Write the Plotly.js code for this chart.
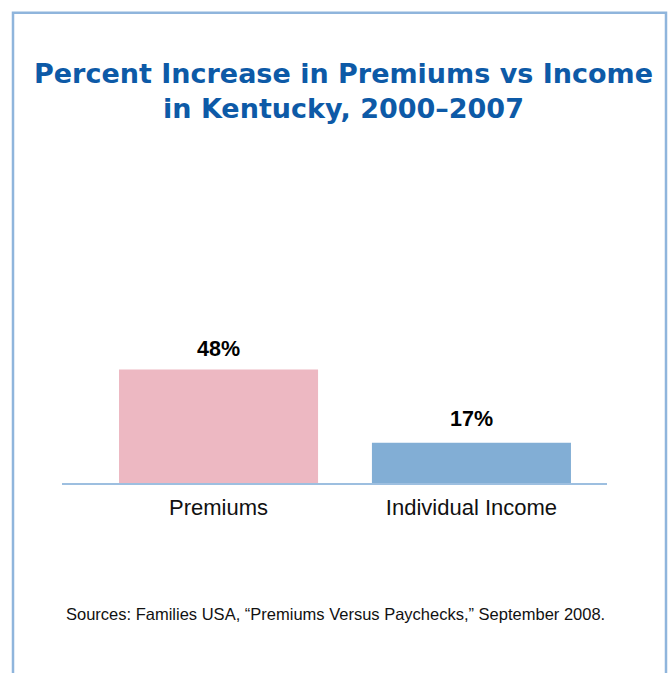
<!DOCTYPE html>
<html>
<head>
<meta charset="utf-8">
<script src="https://cdn.plot.ly/plotly-3.0.1.min.js"></script>
<style>
html,body{margin:0;padding:0;background:#fff;}
#chart{width:670px;height:673px;}
</style>
</head>
<body>
<div id="chart"></div>
<script>
const categories = ["Premiums", "Individual Income"];
const percentIncrease = [48, 17];
const valueLabels = ["48%", "17%"];
const barColors = ["#edb8c2", "#82aed5"];
const titleText = "Percent Increase in Premiums vs Income<br>in Kentucky, 2000\u20132007";
const sourceText = "Sources: Families USA, \u201cPremiums Versus Paychecks,\u201d September 2008.";

const trace = {
  type: "bar",
  x: categories,
  y: percentIncrease,
  marker: {color: barColors, line: {width: 0}},
  width: 0.787,
  hoverinfo: "skip"
};

const valueAnnotations = categories.map((c, i) => ({
  text: valueLabels[i],
  x: c,
  y: percentIncrease[i],
  xref: "x", yref: "y",
  xanchor: "center", yanchor: "bottom",
  yshift: i === 0 ? 6 : 10,
  showarrow: false,
  font: {family: "Liberation Sans, Arial, sans-serif", size: 21.5, color: "#000000", weight: "bold"}
}));

const layout = {
  width: 670,
  height: 673,
  margin: {l: 62, r: 63, t: 340.5, b: 190},
  paper_bgcolor: "#ffffff",
  plot_bgcolor: "#ffffff",
  showlegend: false,
  title: {
    text: titleText,
    font: {family: "DejaVu Sans, sans-serif", size: 27, color: "#0d5aa7", weight: "bold"},
    x: 343.5 / 670,
    xref: "container",
    xanchor: "center",
    y: 1 - 83 / 673,
    yref: "container",
    yanchor: "top"
  },
  xaxis: {
    type: "category",
    range: [-0.619, 1.536],
    showgrid: false,
    zeroline: false,
    showline: true,
    linecolor: "#9dbfe0",
    linewidth: 1.5,
    ticks: "",
    ticklabelstandoff: 4,
    tickfont: {family: "Liberation Sans, Arial, sans-serif", size: 22, color: "#111111"},
    fixedrange: true
  },
  yaxis: {
    range: [0, 60],
    showgrid: false,
    zeroline: false,
    showline: false,
    showticklabels: false,
    ticks: "",
    fixedrange: true
  },
  shapes: [{
    type: "rect",
    xref: "paper", yref: "paper",
    x0: (13 - 62) / 545, x1: (666 - 62) / 545,
    y0: (483 - 700) / 142.5, y1: (483 - 11) / 142.5,
    line: {color: "#8fb5dc", width: 2.5},
    fillcolor: "rgba(0,0,0,0)",
    layer: "below"
  }],
  annotations: valueAnnotations.concat([{
    text: sourceText,
    xref: "paper", yref: "paper",
    x: (335.5 - 62) / 545,
    y: (483 - 614) / 142.5,
    xanchor: "center", yanchor: "middle",
    showarrow: false,
    font: {family: "Liberation Sans, Arial, sans-serif", size: 16.5, color: "#111111"}
  }])
};

Plotly.newPlot("chart", [trace], layout, {displayModeBar: false, staticPlot: true});
</script>
</body>
</html>
